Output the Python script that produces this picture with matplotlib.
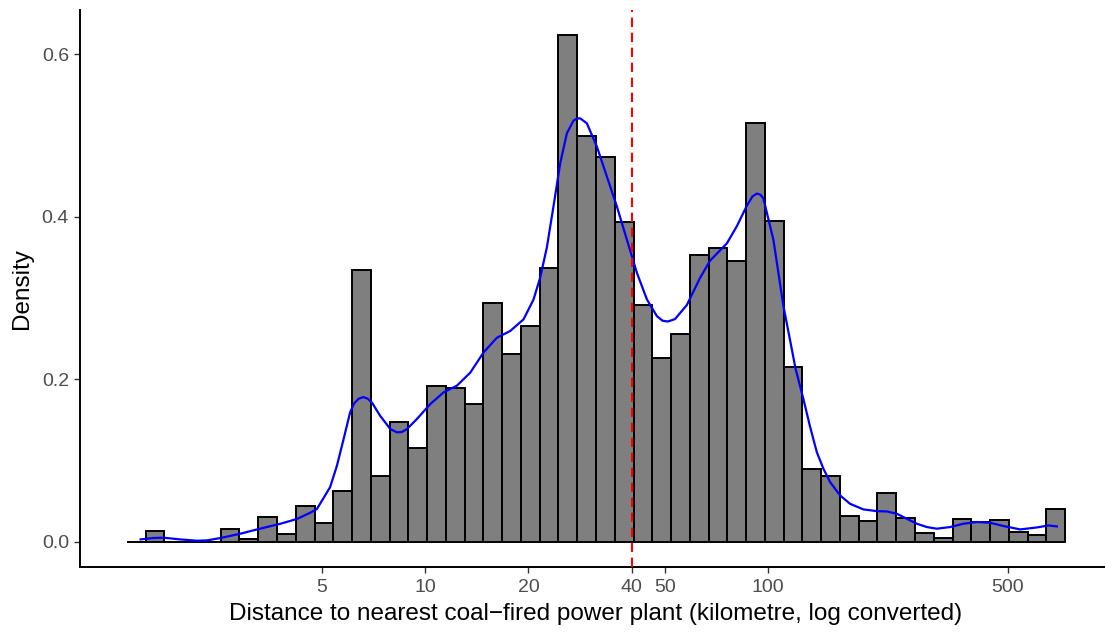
import numpy as np
import matplotlib
matplotlib.use("Agg")
import matplotlib.pyplot as plt

plt.rcParams['font.family'] = ['Liberation Sans', 'DejaVu Sans']

# histogram: 50 bins, equal width on the log10 scale
bin_start_log10 = 0.1303
bin_width_log10 = 0.05471
density = [0.0, 0.0126, 0.0, 0.0, 0.0, 0.016, 0.003, 0.0307, 0.0098, 0.0445,
           0.0233, 0.0624, 0.334, 0.0806, 0.1472, 0.1153, 0.1914, 0.1894, 0.1693, 0.2933,
           0.2307, 0.265, 0.337, 0.6233, 0.4998, 0.4736, 0.393, 0.291, 0.2258, 0.2562,
           0.3534, 0.3617, 0.346, 0.5155, 0.395, 0.2152, 0.090, 0.0806, 0.031, 0.0249,
           0.0597, 0.0291, 0.0107, 0.0045, 0.0282, 0.0245, 0.0262, 0.0122, 0.0082, 0.0397]

# kernel density curve (km, density)
kde_km = [1.48, 1.61, 1.73, 1.93, 2.16, 2.31, 2.53, 2.89, 3.30, 3.78,
          4.23, 4.62, 4.83, 5.28, 5.53, 5.78, 6.04, 6.2, 6.4, 6.6, 6.8, 7.0,
          7.39, 7.91, 8.27, 8.55, 8.85, 9.46, 10.34, 11.31, 12.37, 13.53, 14.79,
          16.18, 17.69, 19.35, 20.69, 21.64, 22.63, 23.66, 24.76, 25.89, 27.06,
          27.7, 28.31, 29.61, 31.67, 33.87, 36.22, 38.73, 41.42, 44.31, 47.37, 49.2, 51.0, 53.5,
          57.94, 63.36, 67.76, 75.79, 81.04, 86.7, 90.0, 92.71, 95.0, 96.9, 103.6, 110.8,
          115.0, 120.2, 126.8, 132.6, 138.7, 145.0, 151.6, 162.2, 173.4, 189.6,
          207.5, 221.9, 237.3, 253.7, 271.4, 290.2, 310.3, 339.3, 371.0, 406.1,
          443.8, 485.3, 542.9, 607.3, 656.5, 694.5]
kde_density = [0.0028, 0.0045, 0.0049, 0.0028, 0.0012, 0.0016, 0.0045, 0.0098, 0.016, 0.022,
               0.028, 0.0356, 0.040, 0.067, 0.0936, 0.126, 0.159, 0.170, 0.176, 0.178, 0.176, 0.171,
               0.155, 0.1387, 0.1346, 0.1350, 0.1387, 0.151, 0.1693, 0.1837, 0.192, 0.208, 0.2328,
               0.251, 0.2593, 0.2736, 0.298, 0.325, 0.362, 0.4126, 0.4659, 0.5027, 0.5182,
               0.521, 0.5211, 0.515, 0.4863, 0.4494, 0.4126, 0.3718, 0.331, 0.2982, 0.2777, 0.272, 0.271, 0.274,
               0.2913, 0.325, 0.3461, 0.3672, 0.3883, 0.4137, 0.425, 0.4285, 0.427, 0.4222, 0.3715, 0.29,
               0.255, 0.213, 0.175, 0.141, 0.11, 0.0896, 0.0733, 0.0568, 0.0466, 0.0397,
               0.0376, 0.0372, 0.0344, 0.0282, 0.0221, 0.018, 0.016, 0.018, 0.0221, 0.0242,
               0.0233, 0.0193, 0.0151, 0.0175, 0.020, 0.0188]

cutoff_km = 40
x_ticks = [5, 10, 20, 40, 50, 100, 500]
y_ticks = [0.0, 0.2, 0.4, 0.6]

edges_log = bin_start_log10 + bin_width_log10 * np.arange(len(density) + 1)
edges = 10 ** edges_log

fig = plt.figure(figsize=(11.05, 6.33), dpi=100)
ax = fig.add_axes([80 / 1105, 1 - 567 / 633, (1112 - 80) / 1105, (567 - 10) / 633])

ax.bar(edges[:-1], density, width=np.diff(edges), align='edge',
       color='#7F7F7F', edgecolor='black', linewidth=1.4, zorder=2)
ax.plot(kde_km, kde_density, color='blue', linewidth=1.6, zorder=3,
        solid_joinstyle='round')
ax.axvline(cutoff_km, color='red', linewidth=1.5, linestyle=(0, (4.5, 2.7)), zorder=4)

ax.set_xscale('log')
pad = 0.05 * (edges_log[-1] - edges_log[0])
ax.set_xlim(10 ** (edges_log[0] - pad), 10 ** (edges_log[-1] + pad))
ymax = max(density)
ax.set_ylim(-0.05 * ymax, 1.05 * ymax)

ax.set_xticks(x_ticks)
ax.set_xticklabels([str(t) for t in x_ticks])
ax.xaxis.set_minor_locator(matplotlib.ticker.NullLocator())
ax.set_yticks(y_ticks)
ax.set_yticklabels([f"{t:.1f}" for t in y_ticks])

for s in ['top', 'right']:
    ax.spines[s].set_visible(False)
for s in ['left', 'bottom']:
    ax.spines[s].set_linewidth(1.4)
    ax.spines[s].set_color('black')

ax.tick_params(axis='both', length=4, width=1.0, color='#333333',
               labelcolor='#4D4D4D', labelsize=14)
ax.tick_params(axis='x', pad=5)
ax.tick_params(axis='y', pad=4)

ax.set_xlabel('Distance to nearest coal\u2212fired power plant (kilometre, log converted)',
              fontsize=17.5, color='black', labelpad=5)
ax.set_ylabel('Density', fontsize=17.5, color='black', labelpad=6)

fig.savefig('out.png', dpi=100)
